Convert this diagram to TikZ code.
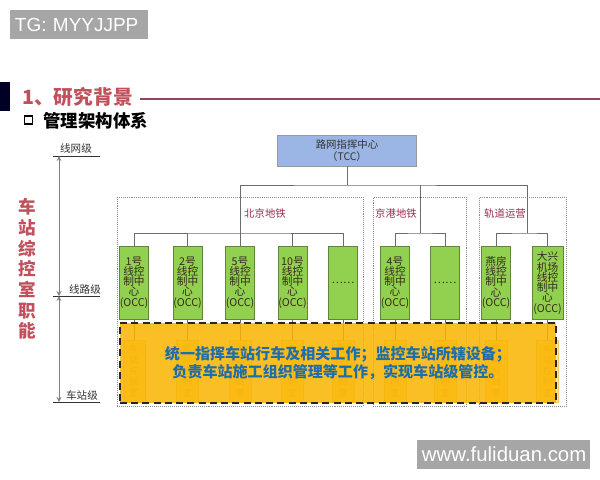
\documentclass[tikz,border=0pt]{standalone}
\usepackage{fontspec}
\setmainfont{Noto Sans CJK SC}
\newfontfamily\websans{Liberation Sans}
\usepackage{xcolor}
\usetikzlibrary{arrows}
\definecolor{titlered}{RGB}{192,80,92}
\definecolor{rulered}{RGB}{140,72,92}
\definecolor{zonered}{RGB}{150,45,75}
\definecolor{tccblue}{RGB}{155,182,228}
\definecolor{occgreen}{RGB}{146,208,80}
\definecolor{occedge}{RGB}{95,135,55}
\definecolor{occtext}{RGB}{55,40,30}
\definecolor{amber}{RGB}{250,180,0}
\definecolor{dutyblue}{RGB}{30,110,170}
\definecolor{stampgray}{RGB}{166,166,166}
\definecolor{stfill}{RGB}{255,228,135}
\definecolor{stedge}{RGB}{240,200,110}
\definecolor{sttext}{RGB}{225,175,95}
\tikzstyle{stamp} = [rectangle, fill=stampgray, text=white, minimum height=0.725cm, inner xsep=0.125cm, align=left, font=\websans]
\tikzstyle{tcc} = [rectangle, minimum width=3.475cm, minimum height=0.625cm, align=center, draw=gray!80, fill=tccblue, text=black!80, font=\fontsize{7.4}{8.2}\selectfont]
\tikzstyle{zone} = [rectangle, densely dotted, draw=gray!90, minimum height=5.225cm]
\tikzstyle{zonename} = [text=zonered, font=\fontsize{7.4}{7.4}\selectfont]
\tikzstyle{occ} = [rectangle, minimum width=0.72cm, minimum height=1.825cm, inner sep=0pt, align=center, draw=occedge, fill=occgreen, text=occtext, font=\fontsize{7.6}{7.3}\selectfont]
\tikzstyle{station} = [rectangle, minimum width=0.55cm, minimum height=1.55cm, inner sep=0pt, align=center, draw=stedge, fill=stfill, text=sttext, font=\fontsize{6.5}{7.8}\selectfont]
\tikzstyle{duty} = [rectangle, minimum width=10.9cm, minimum height=2cm, align=center, fill=amber, fill opacity=0.85, text opacity=1, draw=black!85, line width=1.3pt, dash pattern=on 5pt off 3pt, text=dutyblue, font=\fontsize{10.7}{13.2}\selectfont\bfseries]
\tikzstyle{level} = [inner sep=1pt, text=black!80, font=\fontsize{7.5}{7.5}\selectfont]
\tikzstyle{link} = [draw=gray!85!black, line width=0.6pt]
\tikzstyle{tick} = [draw=black!80, line width=0.7pt]
\tikzstyle{arrow} = [gray, line width=0.6pt, <->, >=stealth]

\begin{document}
\begin{tikzpicture}[x=0.025cm, y=-0.025cm]
		
		\useasboundingbox (0,0) rectangle (600,480);
		
		\node (tg) [stamp, text width=3.2cm, font=\websans\fontsize{13.5}{13.5}\selectfont] at (79,24.5) {TG: MYYJJPP};
		\node (web) [stamp, text width=4.075cm, font=\websans\fontsize{14.5}{14.5}\selectfont] at (503.5,454.5) {www.fuliduan.com};
		
		\fill [black!85!blue] (0,82) rectangle (10,111);
		\node (title) [anchor=west, inner sep=0pt, text=titlered, font=\fontsize{14}{14}\selectfont\bfseries] at (22,97) {1、研究背景};
		\coordinate (ruleA) at (140,99);
		\coordinate (ruleB) at (600,99);
		\draw [rulered, line width=1.1pt] (ruleA) -- (ruleB);
		
		\node (bullet) [draw=black, line width=1.4pt, minimum size=0.2cm, inner sep=0pt] at (28.5,120) {};
		\node (subtitle) [anchor=west, inner sep=0pt, font=\fontsize{12.4}{12.4}\selectfont\bfseries] at (43,121) {管理架构体系};
		
		\node (role) [align=center, text=titlered, font=\fontsize{12.5}{14.7}\selectfont\bfseries] at (27,269) {车\\站\\综\\控\\室\\职\\能};
		
		\coordinate (netL) at (53,156);
		\coordinate (netR) at (100,156);
		\coordinate (lineL) at (53,296);
		\coordinate (lineR) at (100,296);
		\coordinate (stL) at (53,402);
		\coordinate (stR) at (100,402);
		\coordinate (netP) at (59,156);
		\coordinate (lineP) at (59,296);
		\coordinate (stP) at (59,402);
		\node (netlvl) [level] at (76,148) {线网级};
		\node (linelvl) [level] at (85,289) {线路级};
		\node (stlvl) [level] at (82,395) {车站级};
		\draw [tick] (netL) -- (netR);
		\draw [tick] (lineL) -- (lineR);
		\draw [tick] (stL) -- (stR);
		\draw [arrow] (netP) -- (lineP);
		\draw [arrow] (lineP) -- (stP);
		
		\node (bjzone) [zone, minimum width=6.15cm] at (240,301.5) {};
		\node (jgzone) [zone, minimum width=2.325cm] at (419.5,301.5) {};
		\node (gdzone) [zone, minimum width=2.175cm] at (522.5,301.5) {};
		\node (bjname) [zonename] at (265,214) {北京地铁};
		\node (jgname) [zonename] at (396,214) {京港地铁};
		\node (gdname) [zonename] at (505,214) {轨道运营};
		
		\node (tcc) [tcc] at (347,150.5) {路网指挥中心\\（TCC）};
		
		\node (occ1) [occ] at (134,282.5) {1号\\线控\\制中\\心\\(OCC)};
		\node (occ2) [occ] at (187.5,282.5) {2号\\线控\\制中\\心\\(OCC)};
		\node (occ3) [occ] at (240,282.5) {5号\\线控\\制中\\心\\(OCC)};
		\node (occ4) [occ] at (292.5,282.5) {10号\\线控\\制中\\心\\(OCC)};
		\node (occ5) [occ] at (343,282.5) {……};
		\node (occ6) [occ] at (395,282.5) {4号\\线控\\制中\\心\\(OCC)};
		\node (occ7) [occ] at (445,282.5) {……};
		\node (occ8) [occ] at (496,282.5) {燕房\\线控\\制中\\心\\(OCC)};
		\node (occ9) [occ, minimum width=0.78cm] at (547.5,283) {大兴\\机场\\线控\\制中\\心\\(OCC)};
		
		\node (st1) [station] at (134,371) {车\\站\\控\\制\\室};
		\node (st2) [station] at (187.5,371) {车\\站\\控\\制\\室};
		\node (st3) [station] at (240,371) {车\\站\\控\\制\\室};
		\node (st4) [station] at (292.5,371) {车\\站\\控\\制\\室};
		\node (st5) [station] at (343,371) {车\\站\\控\\制\\室};
		\node (st6) [station] at (395,371) {车\\站\\控\\制\\室};
		\node (st7) [station] at (445,371) {车\\站\\控\\制\\室};
		\node (st8) [station] at (496,371) {车\\站\\控\\制\\室};
		\node (st9) [station] at (547.5,371) {车\\站\\控\\制\\室};
		
		\coordinate (top) at (347,185);
		\coordinate (bjbus) at (240,233);
		\coordinate (jgbus) at (420,233);
		\coordinate (gdbus) at (527,233);
		
		\draw [link] (tcc) -- (top);
		\draw [link] (bjbus) |- (top) -| (gdbus);
		\draw [link] (top -| jgbus) -- (jgbus);
		
		\draw [link] (occ1) |- (bjbus) -| (occ5);
		\draw [link] (occ2) -- (occ2 |- bjbus);
		\draw [link] (occ3) -- (bjbus);
		\draw [link] (occ4) -- (occ4 |- bjbus);
		\draw [link] (occ6) |- (jgbus) -| (occ7);
		\draw [link] (occ8) |- (gdbus) -| (occ9);
		
		\draw [link] (occ1) -- (st1);
		\draw [link] (occ2) -- (st2);
		\draw [link] (occ3) -- (st3);
		\draw [link] (occ4) -- (st4);
		\draw [link] (occ5) -- (st5);
		\draw [link] (occ6) -- (st6);
		\draw [link] (occ7) -- (st7);
		\draw [link] (occ8) -- (st8);
		\draw [link] (occ9) -- (st9);
		
		\node (duty) [duty] at (338,363) {统一指挥车站行车及相关工作；监控车站所辖设备；\\负责车站施工组织管理等工作，实现车站级管控。};
		
		\end{tikzpicture}
\end{document}
